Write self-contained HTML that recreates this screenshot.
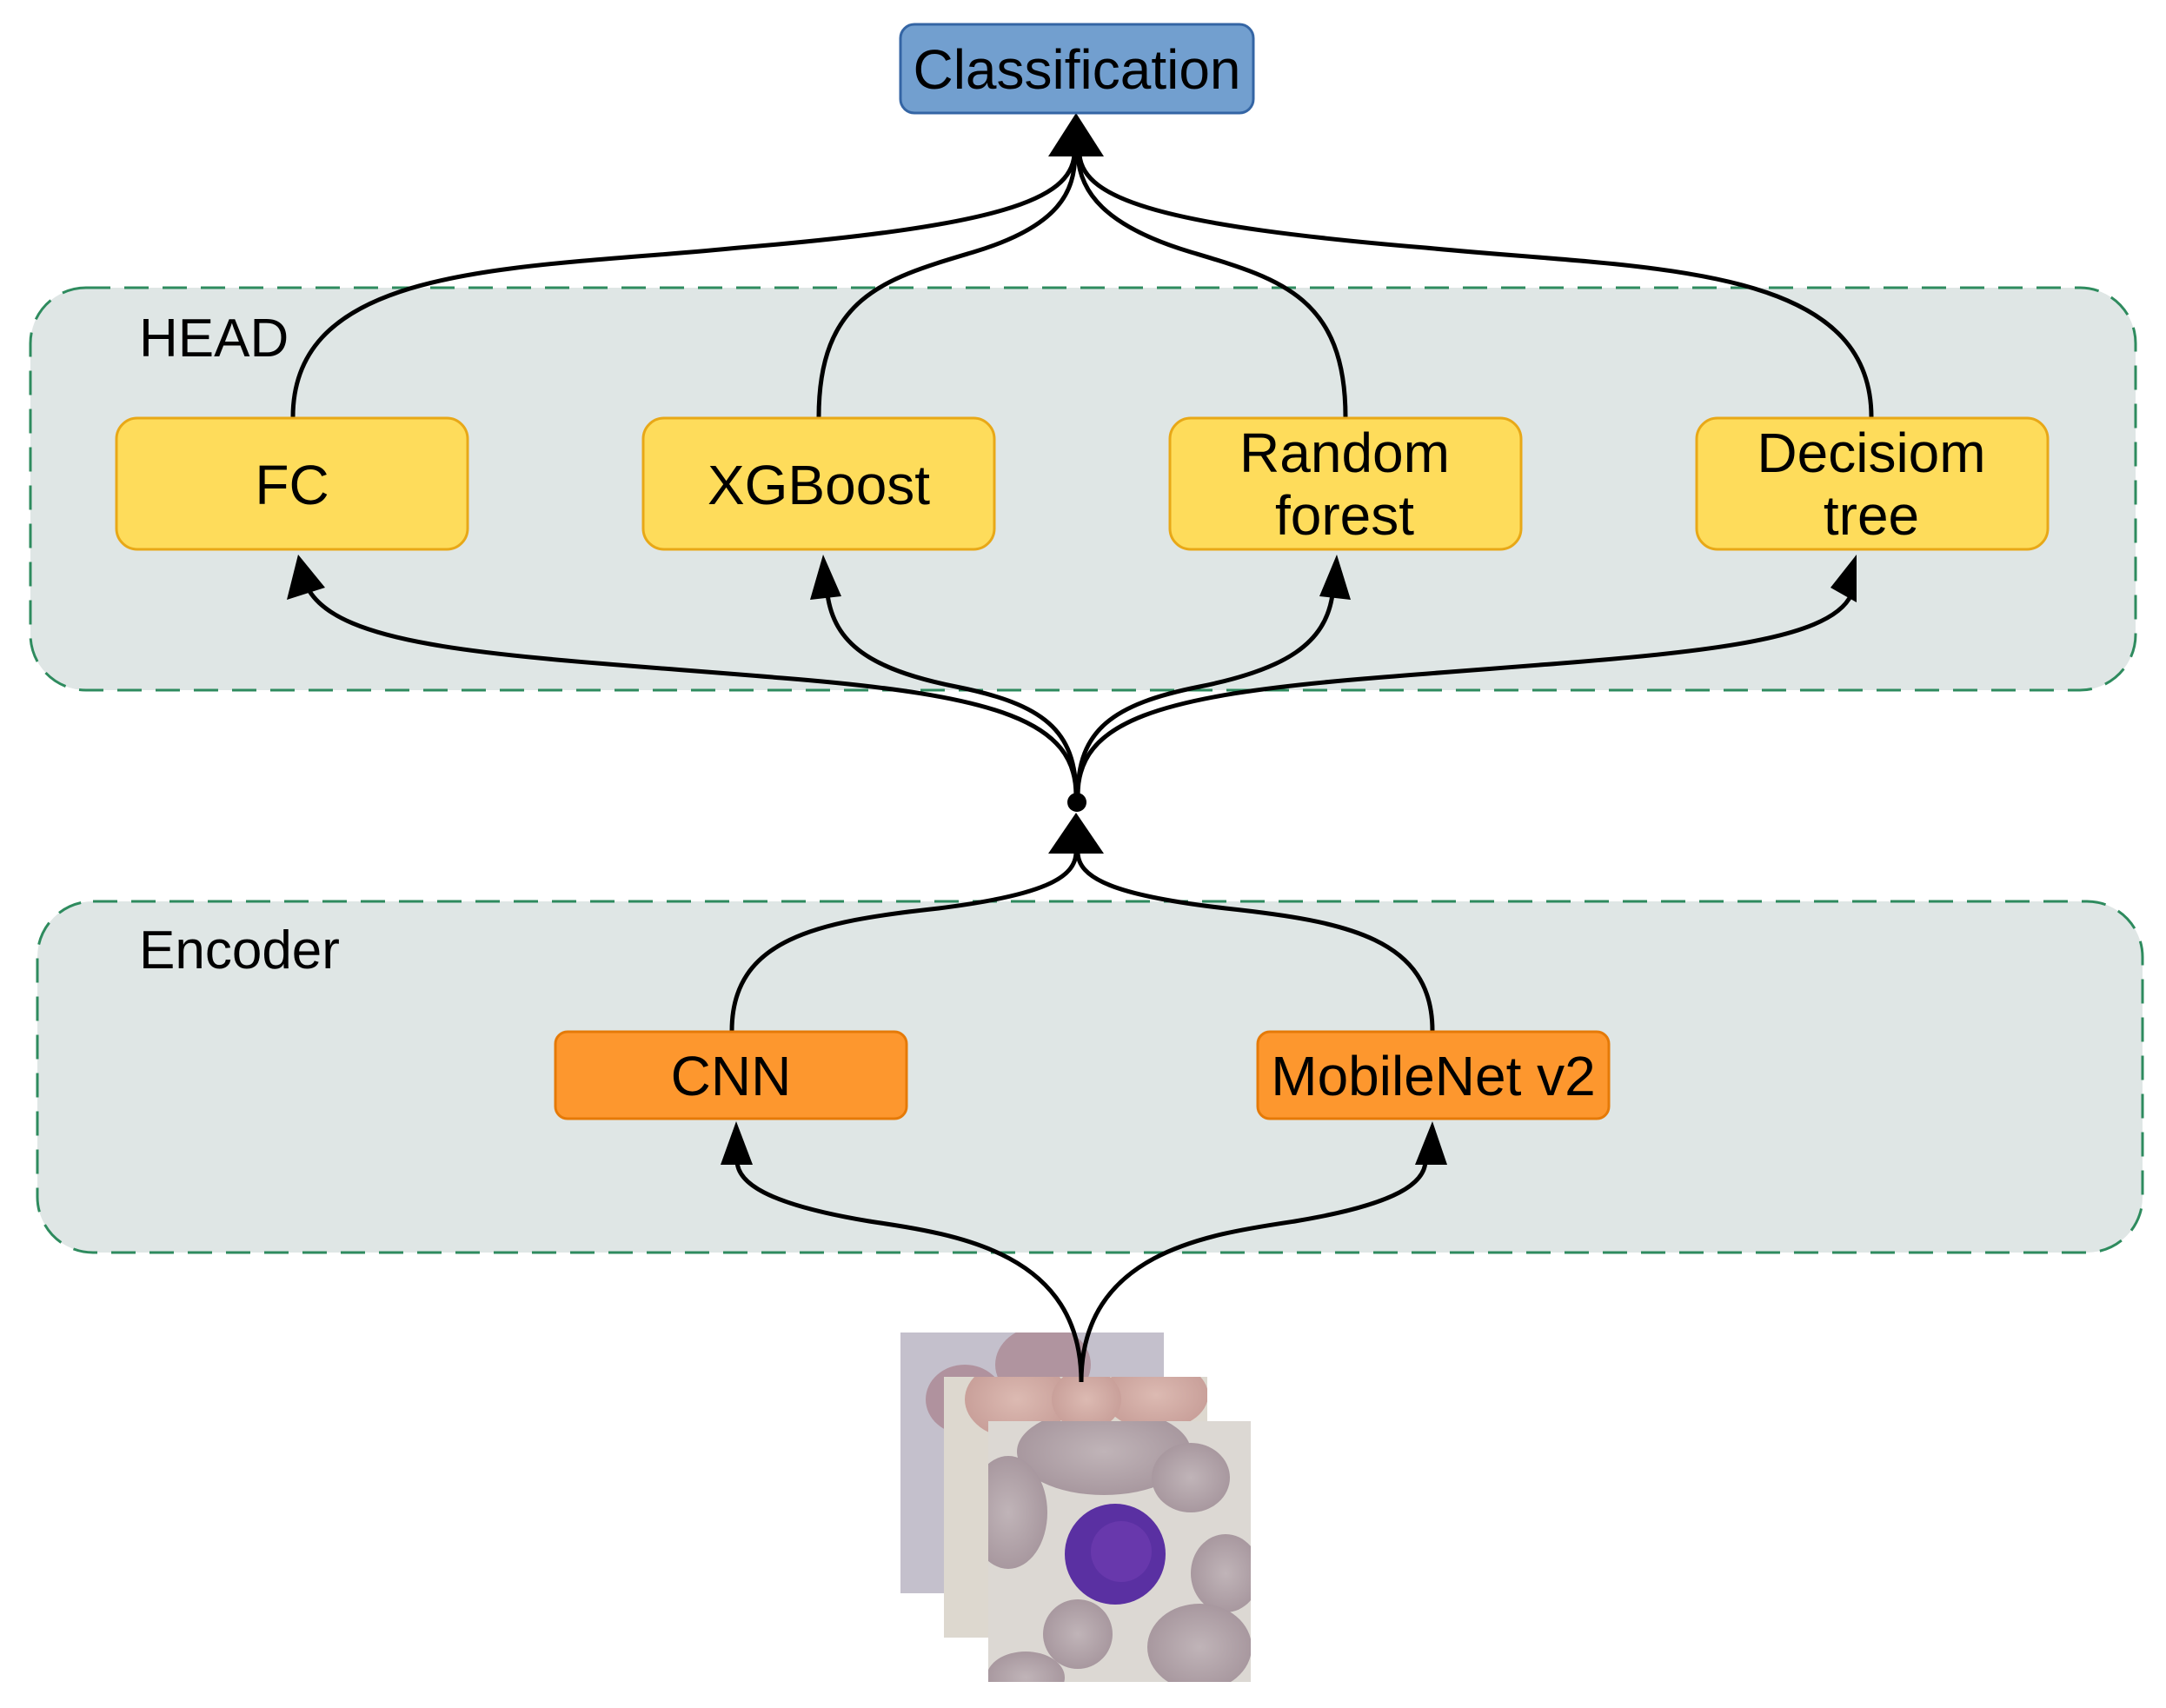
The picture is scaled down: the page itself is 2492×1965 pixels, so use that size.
<!DOCTYPE html>
<html><head><meta charset="utf-8"><style>
html,body{margin:0;padding:0;background:#fff;}
svg{display:block;}
text{font-family:"Liberation Sans",Arial,sans-serif;fill:#000;}
</style></head><body>
<svg width="2492" height="1965" viewBox="0 0 2492 1965" xmlns="http://www.w3.org/2000/svg">
<defs>
<radialGradient id="cell" cx="50%" cy="50%" r="50%"><stop offset="0" stop-color="#c0b4b8"/><stop offset="1" stop-color="#a8989f"/></radialGradient>
<radialGradient id="rcell" cx="50%" cy="50%" r="50%"><stop offset="0" stop-color="#dcbab2"/><stop offset="1" stop-color="#c9a09a"/></radialGradient>
<clipPath id="c1"><rect x="1036" y="1533" width="303" height="300"/></clipPath>
<clipPath id="c2"><rect x="1086" y="1584" width="303" height="300"/></clipPath>
<clipPath id="c3"><rect x="1137" y="1635" width="302" height="300"/></clipPath>
</defs>

<rect x="35" y="331" width="2422" height="463" rx="64" fill="#dfe6e5" stroke="#2e8b5e" stroke-width="3" stroke-dasharray="28,16"/>
<rect x="43" y="1037" width="2422" height="404" rx="64" fill="#dfe6e5" stroke="#2e8b5e" stroke-width="3" stroke-dasharray="28,16"/>
<text x="160" y="410" font-size="62">HEAD</text>
<text x="160" y="1114" font-size="62">Encoder</text>

<g clip-path="url(#c1)">
<rect x="1036" y="1533" width="303" height="300" fill="#c4c0cc"/>
<ellipse cx="1200" cy="1570" rx="55" ry="45" fill="#b0949f"/>
<ellipse cx="1110" cy="1610" rx="45" ry="40" fill="#b0929e"/>
</g>
<g clip-path="url(#c2)">
<rect x="1086" y="1584" width="303" height="300" fill="#ddd8cf"/>
<ellipse cx="1170" cy="1610" rx="60" ry="45" fill="url(#rcell)"/>
<ellipse cx="1330" cy="1605" rx="60" ry="40" fill="url(#rcell)"/>
<ellipse cx="1250" cy="1610" rx="40" ry="35" fill="url(#rcell)"/>
</g>
<g clip-path="url(#c3)">
<rect x="1137" y="1635" width="302" height="300" fill="#dcd8d3"/>
<ellipse cx="1270" cy="1670" rx="100" ry="50" fill="url(#cell)"/>
<ellipse cx="1370" cy="1700" rx="45" ry="40" fill="url(#cell)"/>
<ellipse cx="1160" cy="1740" rx="45" ry="65" fill="url(#cell)"/>
<ellipse cx="1410" cy="1810" rx="40" ry="45" fill="url(#cell)"/>
<ellipse cx="1240" cy="1880" rx="40" ry="40" fill="url(#cell)"/>
<ellipse cx="1380" cy="1895" rx="60" ry="50" fill="url(#cell)"/>
<ellipse cx="1180" cy="1930" rx="45" ry="30" fill="url(#cell)"/>
<ellipse cx="1283" cy="1788" rx="58" ry="58" fill="#5a30a2"/>
<ellipse cx="1290" cy="1785" rx="35" ry="35" fill="#6838ac"/>
</g>

<g fill="none" stroke="#000" stroke-width="5">
<path d="M1244 1590 C1244 1440 1100 1420 1000 1405 C880 1385 848 1360 848 1335"/>
<path d="M1244 1590 C1244 1440 1390 1420 1490 1405 C1610 1385 1640 1360 1640 1335"/>
<path d="M842 1186 C842 1080 940 1060 1080 1045 C1200 1030 1238 1010 1238 980"/>
<path d="M1648 1186 C1648 1080 1550 1060 1410 1045 C1280 1030 1240 1010 1240 980"/>
<path d="M1238 915 C1238 830 1150 800 900 780 C600 755 400 750 356 680"/>
<path d="M1238 915 C1238 840 1200 810 1100 790 C1000 770 960 740 952 684"/>
<path d="M1240 915 C1240 840 1280 810 1380 790 C1480 770 1525 740 1533 684"/>
<path d="M1240 915 C1240 830 1330 800 1580 780 C1880 755 2100 750 2130 684"/>
<path d="M337 480 C337 300 600 310 850 285 C1150 260 1232 230 1236 178"/>
<path d="M942 480 C942 340 1020 320 1120 290 C1220 260 1236 220 1237 178"/>
<path d="M1548 480 C1548 340 1470 320 1370 290 C1270 260 1242 220 1240 178"/>
<path d="M2153 480 C2153 300 1890 310 1640 285 C1340 260 1246 230 1242 178"/>
</g>
<g fill="#000">
<polygon points="1238,130 1206,180 1270,180"/>
<polygon points="1238,935 1206,982 1270,982"/>
<circle cx="1239" cy="923" r="11"/>
<polygon points="847,1290 829,1340 866,1340"/>
<polygon points="1648,1290 1628,1340 1665,1340"/>
<polygon points="343,638 330,690 374,676"/>
<polygon points="947,638 932,690 968,686"/>
<polygon points="1538,638 1518,686 1554,690"/>
<polygon points="2136,638 2106,676 2136,693"/>
</g>

<rect x="1036" y="28" width="406" height="102" rx="16" fill="#729fcf" stroke="#3465a4" stroke-width="3"/>
<text x="1239" y="102" font-size="64" text-anchor="middle">Classification</text>

<g fill="#fedc5b" stroke="#e8a817" stroke-width="3">
<rect x="134" y="481" width="404" height="151" rx="24"/>
<rect x="740" y="481" width="404" height="151" rx="24"/>
<rect x="1346" y="481" width="404" height="151" rx="24"/>
<rect x="1952" y="481" width="404" height="151" rx="24"/>
</g>
<g font-size="64" text-anchor="middle">
<text x="336" y="580">FC</text>
<text x="942" y="580">XGBoost</text>
<text x="1547" y="543">Random</text>
<text x="1547" y="615">forest</text>
<text x="2153" y="543">Decisiom</text>
<text x="2153" y="615">tree</text>
</g>

<g fill="#fd972e" stroke="#e57a08" stroke-width="3">
<rect x="639" y="1187" width="404" height="100" rx="14"/>
<rect x="1447" y="1187" width="404" height="100" rx="14"/>
</g>
<g font-size="64" text-anchor="middle">
<text x="841" y="1260">CNN</text>
<text x="1649" y="1260">MobileNet v2</text>
</g>
</svg>
</body></html>
